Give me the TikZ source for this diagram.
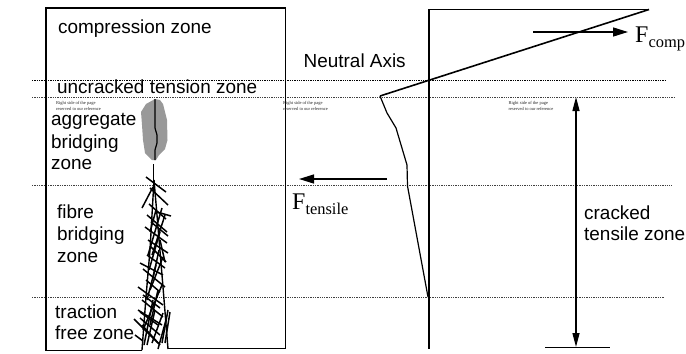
\documentclass[tikz,border=0pt]{standalone}
\usepackage{fontspec}
\setmainfont{Liberation Sans}
\newfontfamily\timesf{Liberation Serif}
\usetikzlibrary{arrows.meta}
\newcommand{\Fsub}[1]{{\timesf\fontsize{24}{26}\selectfont F\raisebox{-5bp}{\fontsize{16.5}{18}\selectfont #1}}}
\tikzset{
  x=1bp,y=-1bp,
  lab/.style={anchor=base west,inner sep=0pt,font=\fontsize{19}{22}\selectfont},
  tiny/.style={anchor=north west,inner sep=0pt,align=left,text=black!85,font=\timesf\fontsize{4.5}{6}\selectfont},
  wall/.style={draw=black,line width=1.8bp},
  dotline/.style={draw=black!75,line width=.7bp,dash pattern=on 1.3bp off 1bp},
  stress/.style={draw=black,line width=1.2bp},
  hatch/.style={draw=black,line width=1.5bp},
  arrowline/.style={draw=black,line width=1.4bp,-{Stealth[length=15bp,width=9bp,inset=0pt]}}
}
\begin{document}
\begin{tikzpicture}
\useasboundingbox (0,0) rectangle (686,353);
% horizontal levels
\draw[dotline,black,line width=.9bp] (32,80) -- (665,80);
\draw[dotline] (32,97) -- (674,97);
\draw[dotline] (32,185) -- (672,185);
\draw[dotline] (32,297) -- (664,297);
% aggregate blob
\fill[black!40] (155,99) -- (160,100) -- (163,104) -- (165,112) -- (167,120) -- (167.5,140) -- (165,149) -- (159,155) -- (156,160) -- (152,160) -- (145,153) -- (143,140) -- (142,125) -- (141,112) -- (146,104) -- cycle;
% beam outline
\draw[wall] (142,350.5) -- (46,350.5) -- (46,8) -- (285.5,8) -- (285.5,348.5) -- (168,348.5);
% crack
\draw[line width=1.2bp] (155,99) -- (155,128) -- (157,135) -- (157,143) -- (155,150) -- (155,160);
\draw[line width=1.4bp] (153.5,164) -- (153.5,192);
\draw[line width=1.4bp] (154,180) -- (150,250) -- (146,297) -- (142,350);
\draw[line width=1.4bp] (154,180) -- (157,215) -- (163,287) -- (168,349);
% fibres
\foreach \a/\b/\c/\d in {
146/177/166/192, 150/188/168/205, 149/204/166/219, 147/215/167/232, 145/227/167/243,
148/240/168/253, 140/263/163/275, 143/269/165/287, 138/287/163/305, 142/300/163/317,
138/310/162/325, 134/319/158/343, 140/312/158/325, 135/335/143/341, 157/212/171/216,
150/246/166/262, 146/280/160/292, 142/325/160/345, 151/222/168/236, 147/255/165/268,
143/295/160/308, 140/318/160/335,
142/208/153/187, 162/208/148/255, 165/215/152/255, 156/210/150/232, 163/257/150/290,
156/265/147/300, 162/285/143/330, 155/310/147/345, 168/310/162/343, 170/312/165/343,
163/313/152/343, 166/320/158/349, 159/250/153/278, 160/232/149/270, 158/290/150/325,
153/300/144/345, 160/240/165/262}
  \draw[hatch] (\a,\b) -- (\c,\d);
% stress block
\draw[wall] (649,9.5) -- (429,9.5) -- (429,349);
\draw[stress,line width=1.6bp] (649,9.5) -- (380,96);
\draw[stress] (380,96) -- (387,113) -- (396,128) -- (407,165) -- (407.5,186) -- (428,297);
% resultant arrows
\coordinate (fcs) at (533,32); \coordinate (fce) at (628,32);
\draw[arrowline] (fcs) -- (fce);
\coordinate (fts) at (387,179); \coordinate (fte) at (299,179);
\draw[arrowline] (fts) -- (fte);
% dimension
\coordinate (dimT) at (576,97); \coordinate (dimB) at (576,347);
\coordinate (barL) at (545,347.5); \coordinate (barR) at (610,347.5);
\draw[draw=black,line width=1.4bp,{Stealth[length=14bp,width=7bp,inset=0pt]}-{Stealth[length=14bp,width=7bp,inset=0pt]}] (dimT) -- (dimB);
\draw[line width=1.4bp] (barL) -- (barR);
% labels
\node[lab] (n1) at (58,33) {compression zone};
\node[lab] (n2) at (57,93) {uncracked tension zone};
\node[lab] (n3) at (51,125.5) {aggregate};
\node[lab] (n4) at (51,148) {bridging};
\node[lab] (n5) at (51,169.5) {zone};
\node[lab] (n6) at (57,218) {fibre};
\node[lab] (n7) at (57,240) {bridging};
\node[lab] (n8) at (57,262) {zone};
\node[lab] (n9) at (55,318) {traction};
\node[lab] (n10) at (55,339.5) {free zone};
\node[lab] (n11) at (303.5,67) {Neutral Axis};
\node[lab] (n12) at (584,219) {cracked};
\node[lab] (n13) at (584,240) {tensile zone};
\node[anchor=base west,inner sep=0pt] (fc) at (635,42) {\Fsub{comp}};
\node[anchor=base west,inner sep=0pt] (ft) at (292,209) {\Fsub{tensile}};
\node[tiny] (t1) at (56,101) {Right side of the page\\reserved to our reference};
\node[tiny] (t2) at (283,101) {Right side of the page\\reserved to our reference};
\node[tiny] (t3) at (508.5,101) {Right side of the page\\reserved to our reference};
\end{tikzpicture}
\end{document}
